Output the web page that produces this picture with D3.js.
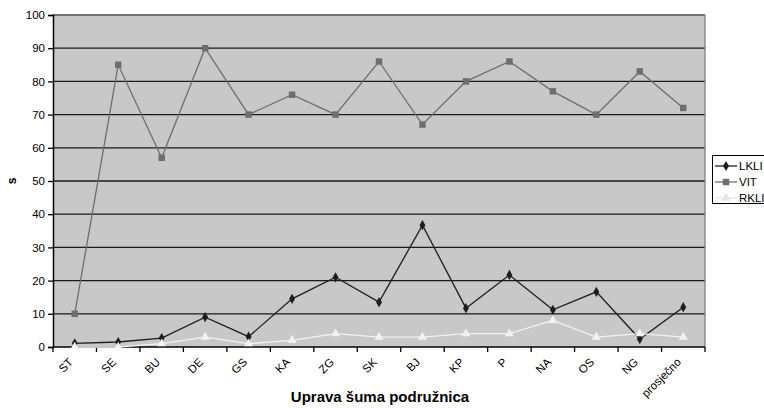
<!DOCTYPE html>
<html>
<head>
<meta charset="utf-8">
<script src="https://cdn.jsdelivr.net/npm/d3@7"></script>
<style>
  body { margin: 0; background: #fff; }
  #wrap { position: relative; width: 764px; height: 408px; }
  svg { display: block; font-family: "Liberation Sans", Arial, sans-serif; }
  .xlab {
    position: absolute;
    font-family: "Liberation Sans", Arial, sans-serif;
    font-size: 11.5px;
    line-height: 12px;
    color: #000;
    white-space: nowrap;
    transform-origin: 100% 50%;
    transform: translate(-100%, -50%) rotate(-45deg);
  }
</style>
</head>
<body>
<div id="wrap">
<svg id="chart" width="764" height="408"></svg>
</div>
<script>
// Forest administration branches
const categories = ["ST", "SE", "BU", "DE", "GS", "KA", "ZG", "SK", "BJ", "KP", "P", "NA", "OS", "NG", "prosječno"];
const lkli = [1.1, 1.5, 2.7, 9.0, 3.1, 14.5, 21.0, 13.5, 36.7, 11.7, 21.7, 11.2, 16.6, 2.4, 12.0];
const vit  = [10, 85, 57, 90, 70, 76, 70, 86, 67, 80, 86, 77, 70, 83, 72];
const rkli = [0, 0, 1, 3, 1, 2, 4, 3, 3, 4, 4, 8, 3, 4, 3];
const yTicks = [0, 10, 20, 30, 40, 50, 60, 70, 80, 90, 100];

const series = [
  { name: "LKLI", values: lkli, color: "#1e1e1e", marker: "diamond" },
  { name: "VIT",  values: vit,  color: "#6e6e6e", marker: "square" },
  { name: "RKLI", values: rkli, color: "#f2f2f2", marker: "triangle" }
];

const svg = d3.select("#chart");
const m = { left: 53, top: 15, right: 705, bottom: 347 };

const x = d3.scaleBand().domain(categories).range([m.left, m.right]).padding(0);
const y = d3.scaleLinear().domain([0, 100]).range([m.bottom, m.top]);
const cx = c => x(c) + x.bandwidth() / 2;

// plot background
svg.append("rect")
  .attr("x", m.left).attr("y", m.top)
  .attr("width", m.right - m.left).attr("height", m.bottom - m.top)
  .attr("fill", "#c8c8c8");

// horizontal gridlines
svg.append("g").selectAll("line").data(yTicks.filter(d => d > 0)).join("line")
  .attr("x1", m.left).attr("x2", m.right)
  .attr("y1", d => y(d)).attr("y2", d => y(d))
  .attr("stroke", "#1a1a1a").attr("stroke-width", 1.3);

// plot frame (top and right)
svg.append("line")
  .attr("x1", m.right).attr("x2", m.right).attr("y1", m.top).attr("y2", m.bottom)
  .attr("stroke", "#808080").attr("stroke-width", 1.3);
svg.append("line")
  .attr("x1", m.left).attr("x2", m.right).attr("y1", m.top).attr("y2", m.top)
  .attr("stroke", "#808080").attr("stroke-width", 1.3);

// y axis
const yAxis = svg.append("g")
  .attr("transform", `translate(${m.left},0)`)
  .call(d3.axisLeft(y).tickValues(yTicks).tickSize(5).tickPadding(3));
yAxis.select(".domain").attr("stroke", "#000").attr("stroke-width", 1.5);
yAxis.selectAll(".tick line").attr("stroke", "#000").attr("stroke-width", 1.3);
yAxis.selectAll("text").attr("font-size", 11.5).attr("fill", "#000")
  .attr("font-family", "Liberation Sans, Arial, sans-serif");

// x axis with ticks at category boundaries
const xAxisG = svg.append("g");
xAxisG.append("line")
  .attr("x1", m.left).attr("x2", m.right).attr("y1", m.bottom).attr("y2", m.bottom)
  .attr("stroke", "#000").attr("stroke-width", 1.5);
const bounds = categories.map(c => x(c)).concat([m.right]);
xAxisG.selectAll("line.tk").data(bounds).join("line").attr("class", "tk")
  .attr("x1", d => d).attr("x2", d => d).attr("y1", m.bottom).attr("y2", m.bottom + 5)
  .attr("stroke", "#000").attr("stroke-width", 1.3);

// slanted category labels, right end anchored just below each category
d3.select("#wrap").selectAll("div.xlab").data(categories).join("div").attr("class", "xlab")
  .style("left", d => `${cx(d) - 4}px`)
  .style("top", `${m.bottom + 13}px`)
  .text(d => d);

// lines and markers
const line = d3.line()
  .x((d, i) => cx(categories[i]))
  .y(d => y(d));

const symbolFor = { diamond: d3.symbolDiamond, square: d3.symbolSquare, triangle: d3.symbolTriangle };
const sizeFor = { diamond: 30, square: 42, triangle: 36 };

series.forEach(s => {
  svg.append("path").datum(s.values)
    .attr("d", line)
    .attr("fill", "none")
    .attr("stroke", s.color)
    .attr("stroke-width", 1.3);
  svg.append("g").selectAll("path").data(s.values).join("path")
    .attr("transform", (d, i) => `translate(${cx(categories[i])},${y(d)})`)
    .attr("d", d3.symbol().type(symbolFor[s.marker]).size(sizeFor[s.marker]))
    .attr("fill", s.color);
});

// axis titles
svg.append("text")
  .attr("transform", `translate(16,${(m.top + m.bottom) / 2}) rotate(-90)`)
  .attr("text-anchor", "middle")
  .attr("font-size", 12).attr("font-weight", "bold")
  .text("s");
svg.append("text")
  .attr("x", 380).attr("y", 402)
  .attr("text-anchor", "middle")
  .attr("font-size", 15).attr("font-weight", "bold")
  .text("Uprava šuma podružnica");

// legend
const lg = svg.append("g").attr("transform", "translate(712,155)");
lg.append("rect").attr("x", 0.5).attr("y", 0.5).attr("width", 80).attr("height", 48)
  .attr("fill", "#fff").attr("stroke", "#000").attr("stroke-width", 1);
series.forEach((s, i) => {
  const cy = 11 + i * 16;
  const col = s.name === "RKLI" ? "#e6e6e6" : s.color;
  lg.append("line").attr("x1", 3).attr("x2", 25).attr("y1", cy).attr("y2", cy)
    .attr("stroke", col).attr("stroke-width", 1.3);
  lg.append("path").attr("transform", `translate(14,${cy})`)
    .attr("d", d3.symbol().type(symbolFor[s.marker]).size(sizeFor[s.marker]))
    .attr("fill", col);
  lg.append("text").attr("x", 27).attr("y", cy + 4)
    .attr("font-size", 11.5).attr("fill", "#000").text(s.name);
});
</script>
</body>
</html>
